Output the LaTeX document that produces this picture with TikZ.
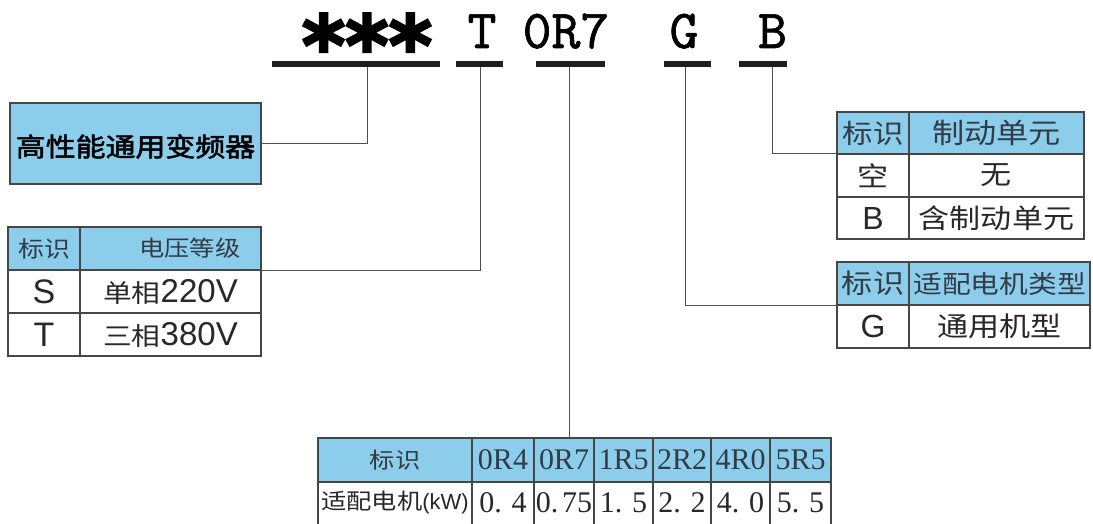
\documentclass[tikz,border=0pt]{standalone}
\usepackage{fontspec}
\setmainfont{Liberation Serif}
\setsansfont{Liberation Sans}
\newfontfamily\cjk[FakeStretch=1.15]{Noto Sans CJK SC}
\newfontfamily\cjkbold[FakeStretch=1.15,FakeBold=2]{Noto Sans CJK SC}
\newfontfamily\dejavu[FakeBold=3]{DejaVu Sans}
\newfontfamily\codefont{lmmono10-regular.otf}[FakeBold=1.2]
\newcommand\fsz[1]{\fontsize{#1}{#1}\selectfont}

\definecolor{hdrblue}{RGB}{139,205,235}
\definecolor{rulegray}{RGB}{70,70,70}
\definecolor{cellink}{RGB}{40,40,40}
\definecolor{hdrink}{RGB}{50,60,70}
\definecolor{barink}{RGB}{30,30,30}
\definecolor{wiregray}{RGB}{80,80,80}

\begin{document}
\begin{tikzpicture}[x=1pt,y=-1pt,
  cell/.style={draw=rulegray, line width=1.2pt, anchor=north west,
    inner sep=0pt, outer sep=0pt, text=cellink},
  hcell/.style={cell, fill=hdrblue, text=hdrink},
  wcell/.style={cell, fill=white},
  codebar/.style={fill=barink, anchor=north west, inner sep=0pt,
    outer sep=0pt, minimum height=6pt},
  codechar/.style={anchor=base, text=black, font=\codefont\fsz{55}},
  wire/.style={draw=wiregray, line width=1pt}]

\useasboundingbox (0,0) rectangle (1093,524);

% ---- model code ----
\node[anchor=base, text=black, font=\dejavu\bfseries\fsz{83}] (stars) at (367,75) {***};
\node[codechar] (code-v) at (482,48) {T};
\node[codechar] (code-p) at (566,48) {0R7};
\node[codechar] (code-m) at (684,48) {G};
\node[codechar] (code-b) at (772.5,48) {B};

\node[codebar, minimum width=168pt] (bar1) at (272,61) {};
\node[codebar, minimum width=47pt]  (bar2) at (456,61) {};
\node[codebar, minimum width=69pt]  (bar3) at (536,61) {};
\node[codebar, minimum width=47pt]  (bar4) at (664,61) {};
\node[codebar, minimum width=48pt]  (bar5) at (739,61) {};

% ---- series box ----
\node[hcell, text=black, minimum width=251pt, minimum height=81pt] (series) at (10,103)
  {\raisebox{-3pt}[\height][\depth]{\cjkbold\fsz{26}高性能通用变频器}};

% ---- voltage table ----
\node[hcell, minimum width=72pt, minimum height=43pt] (lt-h1) at (8,227) {\cjk\fsz{22.5}标识};
\node[hcell, minimum width=181pt, minimum height=43pt] (lt-h2) at (80,227)
  {\hspace{39pt}\cjk\fsz{22}电压等级};
\node[wcell, minimum width=72pt, minimum height=43pt] (lt-s1) at (8,270) {\sffamily\fsz{34}S};
\node[wcell, minimum width=181pt, minimum height=43pt] (lt-s2) at (80,270)
  {{\cjk\fsz{25}单相}{\sffamily\fsz{33}220V}};
\node[wcell, minimum width=72pt, minimum height=43pt] (lt-t1) at (8,313) {\sffamily\fsz{34}T};
\node[wcell, minimum width=181pt, minimum height=43pt] (lt-t2) at (80,313)
  {{\cjk\fsz{25}三相}{\sffamily\fsz{33}380V}};

% ---- brake unit table ----
\node[hcell, minimum width=72pt, minimum height=42pt] (rt1-h1) at (837,112) {\cjk\fsz{26.5}标识};
\node[hcell, minimum width=175pt, minimum height=42pt] (rt1-h2) at (909,112) {\cjk\fsz{28}制动单元};
\node[wcell, minimum width=72pt, minimum height=43pt] (rt1-a1) at (837,154) {\cjk\fsz{27}空};
\node[wcell, minimum width=175pt, minimum height=43pt] (rt1-a2) at (909,154) {\cjk\fsz{27}无};
\node[wcell, minimum width=72pt, minimum height=42pt] (rt1-b1) at (837,197) {\sffamily\fsz{32}B};
\node[wcell, minimum width=175pt, minimum height=42pt] (rt1-b2) at (909,197) {\cjk\fsz{27}含制动单元};

% ---- motor type table ----
\node[hcell, minimum width=72pt, minimum height=43pt] (rt2-h1) at (837,262) {\cjk\fsz{27}标识};
\node[hcell, minimum width=181pt, minimum height=43pt] (rt2-h2) at (909,262) {\cjk\fsz{25}适配电机类型};
\node[wcell, minimum width=72pt, minimum height=43pt] (rt2-g1) at (837,305) {\sffamily\fsz{32}G};
\node[wcell, minimum width=181pt, minimum height=43pt] (rt2-g2) at (909,305) {\cjk\fsz{27}通用机型};

% ---- power rating table ----
\node[hcell, minimum width=154pt, minimum height=44pt] (bt-k1) at (318,438) {\cjk\fsz{22}标识};
\node[hcell, minimum width=62pt, minimum height=44pt] (bt-k2) at (472,438) {\fsz{30}0R4};
\node[hcell, minimum width=60pt, minimum height=44pt] (bt-k3) at (534,438) {\fsz{30}0R7};
\node[hcell, minimum width=59pt, minimum height=44pt] (bt-k4) at (594,438) {\fsz{30}1R5};
\node[hcell, minimum width=58pt, minimum height=44pt] (bt-k5) at (653,438) {\fsz{30}2R2};
\node[hcell, minimum width=59pt, minimum height=44pt] (bt-k6) at (711,438) {\fsz{30}4R0};
\node[hcell, minimum width=61pt, minimum height=44pt] (bt-k7) at (770,438) {\fsz{30}5R5};

\node[wcell, minimum width=154pt, minimum height=46pt] (bt-v1) at (318,482)
  {\raisebox{2pt}[\height][\depth]{{\cjk\fsz{22}适配电机}{\sffamily\fsz{22}(kW)}}};
\node[wcell, minimum width=62pt, minimum height=46pt] (bt-v2) at (472,482) {\raisebox{2pt}[\height][\depth]{\fsz{30}0. 4}};
\node[wcell, minimum width=60pt, minimum height=46pt] (bt-v3) at (534,482) {\raisebox{2pt}[\height][\depth]{\fsz{30}0.\hspace{4pt}75}};
\node[wcell, minimum width=59pt, minimum height=46pt] (bt-v4) at (594,482) {\raisebox{2pt}[\height][\depth]{\fsz{30}1. 5}};
\node[wcell, minimum width=58pt, minimum height=46pt] (bt-v5) at (653,482) {\raisebox{2pt}[\height][\depth]{\fsz{30}2. 2}};
\node[wcell, minimum width=59pt, minimum height=46pt] (bt-v6) at (711,482) {\raisebox{2pt}[\height][\depth]{\fsz{30}4. 0}};
\node[wcell, minimum width=61pt, minimum height=46pt] (bt-v7) at (770,482) {\raisebox{2pt}[\height][\depth]{\fsz{30}5. 5}};

% ---- leader lines from code fields to tables ----
\coordinate (j1) at (367,67);
\coordinate (j2) at (480,67);
\coordinate (j3) at (569,67);
\coordinate (j4) at (685,67);
\coordinate (j5) at (772,67);
\draw[wire] (j1) |- (series.east);
\draw[wire] (j2) |- (lt-h2.south east);
\draw[wire] (j3) -- (j3 |- bt-k3.north);
\draw[wire] (j4) |- (rt2-h1.south west);
\draw[wire] (j5) |- (rt1-h1.south west);
\end{tikzpicture}
\end{document}
